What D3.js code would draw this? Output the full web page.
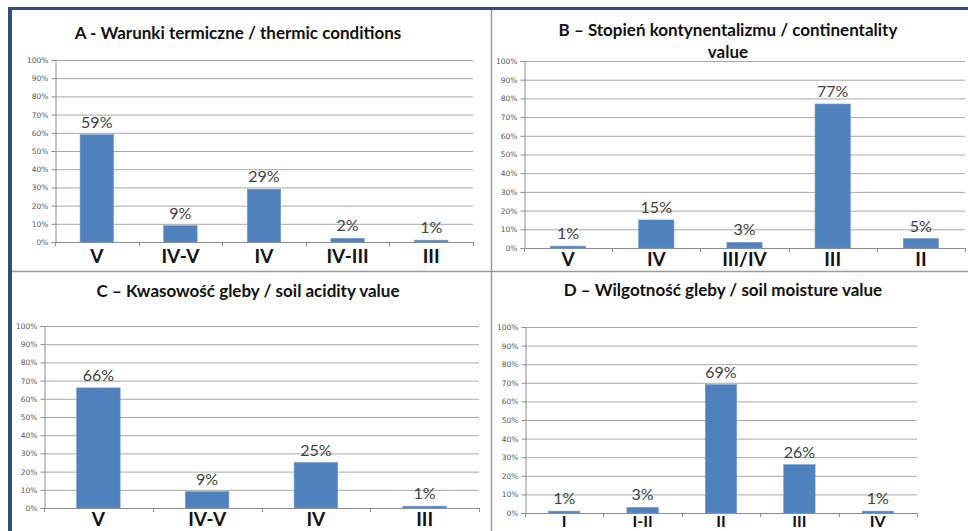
<!DOCTYPE html>
<html>
<head>
<meta charset="utf-8">
<script src="https://cdn.jsdelivr.net/npm/d3@7"></script>
<style>
  body { margin: 0; background: #fff; }
  text { font-family: Lato, "Open Sans", sans-serif; }
</style>
</head>
<body>
<div id="main"></div>
<script>
var ctx = {
    w: 968,
    h: 531,
    blue: "#4f81bd",
    grid: "#a8a8a8",
    axis: "#8c8c8c"
};

// data
var catsA = ["V", "IV-V", "IV", "IV-III", "III"];
var valsA = [59, 9, 29, 2, 1];
var catsB = ["V", "IV", "III/IV", "III", "II"];
var valsB = [1, 15, 3, 77, 5];
var catsC = ["V", "IV-V", "IV", "III"];
var valsC = [66, 9, 25, 1];
var catsD = ["I", "I-II", "II", "III", "IV"];
var valsD = [1, 3, 69, 26, 1];
var yTicks = [0, 10, 20, 30, 40, 50, 60, 70, 80, 90, 100];

var titleA = ["A - Warunki termiczne / thermic conditions"];
var titleB = ["B \u2013 Stopie\u0144 kontynentalizmu / continentality", "value"];
var titleC = ["C \u2013 Kwasowo\u015b\u0107 gleby / soil acidity value"];
var titleD = ["D \u2013 Wilgotno\u015b\u0107 gleby / soil moisture value"];

// panel layout (clip box, plot area, title anchor, category label baseline)
var panels = [
    { id: "a", cats: catsA, vals: valsA, title: titleA, clip: [12, 10, 479, 261],
      x0: 55, x1: 473, yTop: 60, yBot: 242, tx: 238, ty: 39, cy: 263, fs: 19 },
    { id: "b", cats: catsB, vals: valsB, title: titleB, clip: [492, 10, 476, 261],
      x0: 524, x1: 965, yTop: 61, yBot: 248, tx: 728, ty: 36, cy: 266, fs: 19 },
    { id: "c", cats: catsC, vals: valsC, title: titleC, clip: [12, 272, 479, 259],
      x0: 44, x1: 479, yTop: 326, yBot: 508, tx: 248, ty: 297, cy: 526, fs: 19 },
    { id: "d", cats: catsD, vals: valsD, title: titleD, clip: [492, 272, 476, 259],
      x0: 525, x1: 917, yTop: 327, yBot: 513, tx: 723, ty: 296, cy: 527, fs: 16 }
];

var drawPanel = function(svg, p) {
    var defs = svg.append("defs");
    defs.append("clipPath").attr("id", "clip-" + p.id)
        .append("rect")
        .attr("x", p.clip[0]).attr("y", p.clip[1])
        .attr("width", p.clip[2]).attr("height", p.clip[3]);

    var g = svg.append("g").attr("clip-path", "url(#clip-" + p.id + ")");

    var x = d3.scaleBand()
        .domain(p.cats)
        .range([p.x0, p.x1])
        .paddingInner(0.6)
        .paddingOuter(0.3);
    var y = d3.scaleLinear().domain([0, 100]).range([p.yBot, p.yTop]);

    // gridlines
    g.selectAll(".grid")
        .data(yTicks.filter(function(t) { return t > 0; }))
        .enter().append("line")
        .attr("x1", p.x0).attr("x2", p.x1)
        .attr("y1", function(d) { return y(d) + 0.5; })
        .attr("y2", function(d) { return y(d) + 0.5; })
        .style("stroke", ctx.grid);

    // y axis
    var yAxis = d3.axisLeft(y)
        .tickValues(yTicks)
        .tickSize(4)
        .tickPadding(3)
        .tickFormat(function(d) { return d + "%"; });
    var ya = g.append("g")
        .attr("transform", "translate(" + (p.x0 + 0.5) + ",0)")
        .call(yAxis);
    ya.select(".domain").style("stroke", ctx.axis);
    ya.selectAll(".tick line").style("stroke", ctx.axis);
    ya.selectAll(".tick text")
        .style("font-size", "7.5px")
        .style("fill", "#555")
        .style("font-family", "\"DejaVu Sans\", sans-serif");

    // x axis with Excel-style ticks between categories
    g.append("line")
        .attr("x1", p.x0).attr("x2", p.x1)
        .attr("y1", p.yBot + 0.5).attr("y2", p.yBot + 0.5)
        .style("stroke", ctx.axis);
    var step = x.step();
    g.selectAll(".xtick")
        .data(d3.range(p.cats.length + 1))
        .enter().append("line")
        .attr("x1", function(i) { return Math.round(p.x0 + i * step) + 0.5; })
        .attr("x2", function(i) { return Math.round(p.x0 + i * step) + 0.5; })
        .attr("y1", p.yBot).attr("y2", p.yBot + 4)
        .style("stroke", ctx.axis);

    // bars
    g.selectAll(".bar")
        .data(p.vals)
        .enter().append("rect")
        .attr("x", function(d, i) { return x(p.cats[i]); })
        .attr("width", x.bandwidth())
        .attr("y", function(d) { return y(d); })
        .attr("height", function(d) { return p.yBot - y(d); })
        .style("fill", ctx.blue)
        .style("stroke", "#6d97cc")
        .style("stroke-width", 0.6);

    // value labels
    g.selectAll(".val")
        .data(p.vals)
        .enter().append("text")
        .attr("x", function(d, i) { return x(p.cats[i]) + x.bandwidth() / 2; })
        .attr("y", function(d) { return y(d) - 7; })
        .attr("text-anchor", "middle")
        .style("font-size", "16px")
        .style("fill", "#404040")
        .text(function(d) { return d + "%"; });

    // category labels
    g.selectAll(".cat")
        .data(p.cats)
        .enter().append("text")
        .attr("x", function(d) { return x(d) + x.bandwidth() / 2; })
        .attr("y", p.cy)
        .attr("text-anchor", "middle")
        .style("font-size", p.fs + "px")
        .style("font-weight", "bold")
        .style("fill", "#111")
        .text(function(d) { return d; });

    // title
    g.selectAll(".title")
        .data(p.title)
        .enter().append("text")
        .attr("x", p.tx)
        .attr("y", function(d, i) { return p.ty + i * 22; })
        .attr("text-anchor", "middle")
        .style("font-size", "17px")
        .style("font-weight", "bold")
        .style("fill", "#111")
        .text(function(d) { return d; });
};

var createViz = function() {
    var svg = d3.select("#main").append("svg")
        .attr("width", ctx.w)
        .attr("height", ctx.h);

    // frame: dark blue top and left border, grey dividers
    svg.append("rect").attr("x", 8).attr("y", 7).attr("width", ctx.w - 8).attr("height", 3)
        .style("fill", "#2f4f7f");
    svg.append("rect").attr("x", 8).attr("y", 7).attr("width", 4).attr("height", ctx.h - 7)
        .style("fill", "#2f4f7f");
    svg.append("line").attr("x1", 491.5).attr("x2", 491.5).attr("y1", 10).attr("y2", ctx.h)
        .style("stroke", "#9a9a9a").style("stroke-width", 1.5);
    svg.append("line").attr("x1", 12).attr("x2", ctx.w).attr("y1", 271.5).attr("y2", 271.5)
        .style("stroke", "#9a9a9a").style("stroke-width", 1.5);

    panels.forEach(function(p) { drawPanel(svg, p); });
};

createViz();
</script>
</body>
</html>
